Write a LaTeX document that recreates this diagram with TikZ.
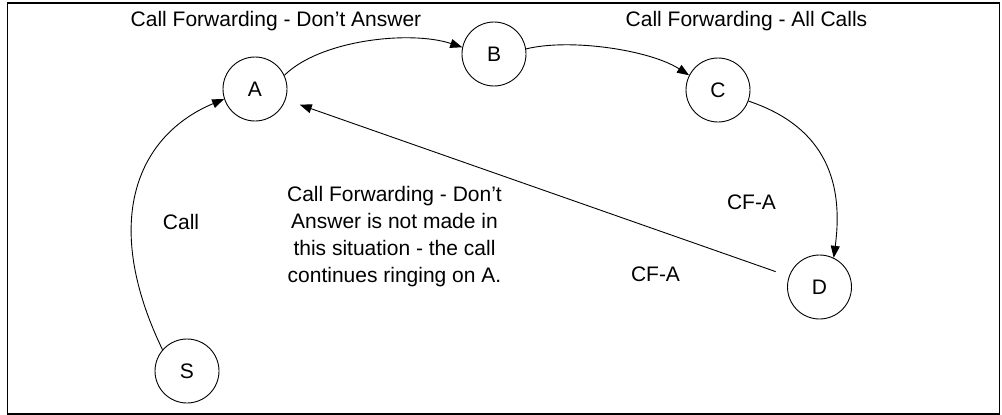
\documentclass[tikz,border=0pt]{standalone}
\usepackage{fontspec}
\setmainfont{Liberation Sans}
\usetikzlibrary{arrows.meta}
\begin{document}
\begin{tikzpicture}[x=1pt,y=-1pt,
  every node/.style={font=\fontsize{21pt}{26.7pt}\selectfont},
  state/.style={draw,circle,line width=0.9pt,minimum size=64pt,inner sep=0pt},
  lbl/.style={anchor=base,inner sep=0pt},
  conn/.style={line width=0.9pt,-{Triangle[length=12pt,width=9pt]}}]
\useasboundingbox (0,0) rectangle (1002,415);
\draw[line width=1.7pt] (7.5,3) rectangle (999.5,413.8);
\node[state] (A) at (255,89) {A};
\node[state] (B) at (494,54) {B};
\node[state] (C) at (718,90) {C};
\node[state] (D) at (819.5,287) {D};
\node[state] (S) at (187,371) {S};
\node[lbl] (t1) at (276,27) {Call Forwarding - Don’t Answer};
\node[lbl] (t2) at (746.5,27) {Call Forwarding - All Calls};
\node[lbl] (t3) at (181,229) {Call};
\node[lbl] (t4) at (751.5,209) {CF-A};
\node[lbl] (t5) at (655.5,281) {CF-A};
\node[lbl,align=center] (t6) at (394.5,282) {Call Forwarding - Don’t\\Answer is not made in\\this situation - the call\\continues ringing on A.};
\draw[conn] (S.139) .. controls (100,220) and (138,135) .. (A.198);
\draw[conn] (A.25) .. controls (320,40) and (410,30) .. (B.168);
\draw[conn] (B.9) .. controls (570,38) and (650,50) .. (C.153);
\draw[conn] (C.-20) .. controls (835,130) and (842,195) .. (D.64);
\draw[conn,shorten <=14pt,shorten >=15pt] (D) -- (A);
\end{tikzpicture}
\end{document}
